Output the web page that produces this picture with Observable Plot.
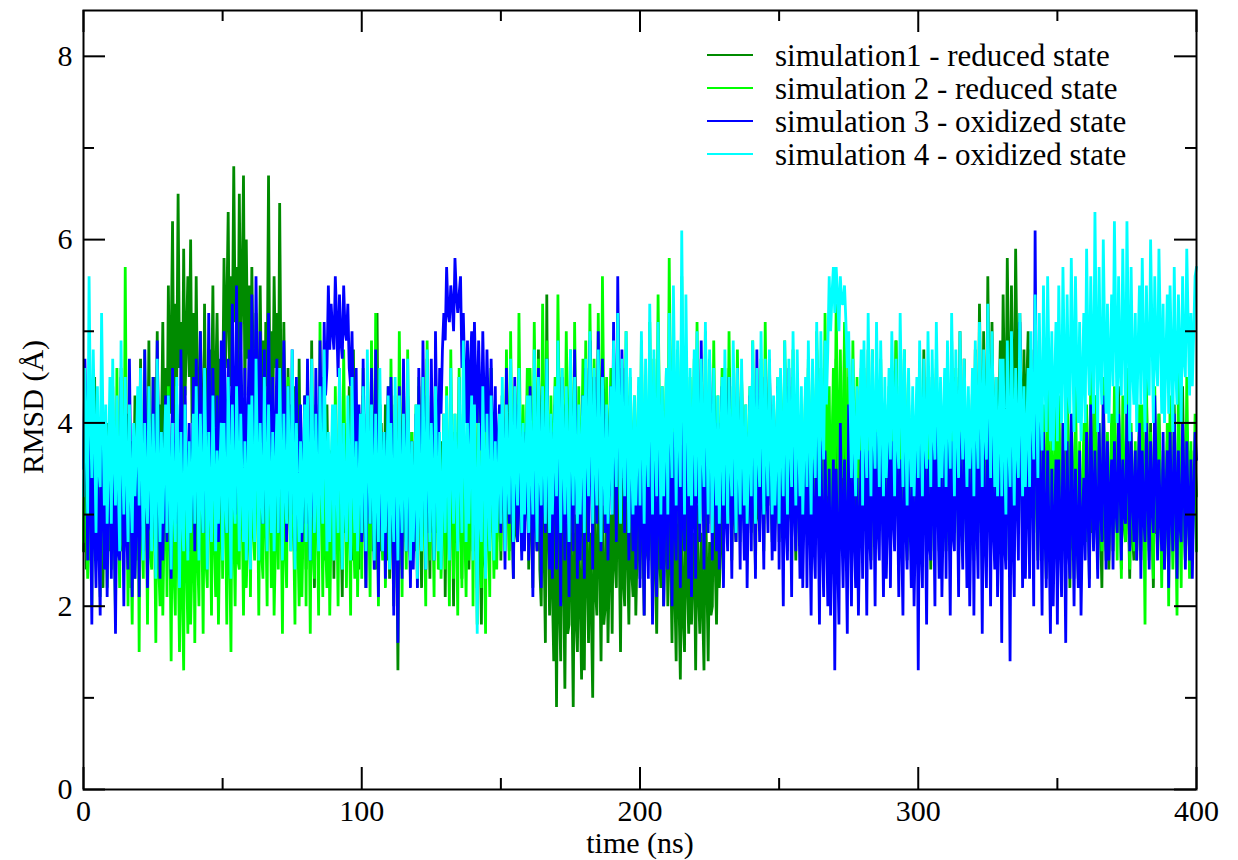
<!DOCTYPE html>
<html><head><meta charset="utf-8">
<script src="https://cdn.jsdelivr.net/npm/d3@7"></script>
<script src="https://cdn.jsdelivr.net/npm/@observablehq/plot@0.6"></script>
<style>
body{margin:0;background:#fff;}
#wrap{position:relative;width:1238px;height:860px;font-family:"Liberation Serif","Times New Roman",serif;}
#wrap svg{position:absolute;left:0;top:0;}
#legend{position:absolute;left:707px;top:38.5px;font-size:31px;line-height:33px;color:#000;}
.row{display:flex;align-items:center;height:33px;white-space:nowrap;}
.sw{display:inline-block;width:46px;height:2.5px;margin-right:22px;}
</style></head>
<body><div id="wrap"><div id="legend"></div></div>
<script>
const seriesNames = ["simulation1 - reduced state","simulation 2 - reduced state","simulation 3 - oxidized state","simulation 4 - oxidized state"];
const seriesColors = ["#008b00","#00ff00","#0000ff","#00ffff"];
const timeStepNs = 0.5;

const sim1Values = [
2.6,3.9,2.4,4.2,3.0,2.5,3.8,2.9,4.5,2.7,3.3,2.5,3.6,4.1,2.2,3.4,2.8,4.0,2.6,3.5,
2.8,4.4,3.1,2.3,3.9,2.7,3.2,4.6,2.6,3.5,2.9,4.1,2.4,3.6,2.2,3.8,3.0,4.3,2.5,3.7,
3.0,4.7,3.3,2.7,4.3,3.5,3.2,4.9,2.9,4.1,3.6,4.5,3.1,5.0,3.4,4.2,3.8,5.1,3.5,4.6,
3.6,5.5,4.1,4.8,6.2,4.0,5.3,4.4,6.5,4.6,5.1,3.8,5.9,4.3,4.9,5.6,4.5,6.0,4.0,5.2,
3.7,5.6,4.2,3.5,5.0,4.0,3.2,5.3,3.9,4.6,3.6,4.8,4.1,5.5,3.9,4.4,5.2,4.0,4.7,3.8,
4.2,5.8,4.6,5.2,6.3,4.4,5.6,4.9,6.8,5.1,5.7,4.5,6.5,4.8,5.4,6.7,4.3,6.0,4.7,5.5,
4.0,5.7,4.5,3.6,5.2,4.3,3.8,5.5,4.2,4.9,3.3,5.1,4.4,6.7,4.1,5.0,3.9,5.6,4.6,5.2,
3.7,6.4,4.3,3.4,5.1,3.9,3.0,4.6,3.6,4.2,2.8,4.4,3.3,4.0,2.6,4.7,3.1,3.8,2.9,4.3,
2.4,4.3,3.4,2.7,4.9,3.2,2.2,4.1,3.0,3.6,2.9,4.5,2.6,3.9,2.5,4.2,3.1,3.7,2.8,4.0,
2.3,4.0,3.2,2.6,4.6,3.0,2.1,3.9,2.8,3.5,2.8,4.4,3.3,2.5,4.8,3.1,2.7,3.8,2.4,4.1,
2.7,4.3,3.0,2.2,4.1,3.4,3.0,4.6,2.6,3.7,2.4,5.2,3.1,2.6,4.0,3.3,2.9,4.2,2.5,3.6,
2.3,3.8,2.9,2.0,4.2,3.1,1.3,3.6,2.7,2.4,4.5,3.0,2.7,4.1,3.2,2.5,3.9,2.8,2.6,3.5,
2.5,4.4,3.1,2.2,3.9,2.9,2.8,4.7,3.3,2.3,4.0,3.0,2.6,4.3,2.8,3.4,2.4,3.8,2.9,4.1,
2.1,3.7,3.0,2.5,4.2,3.2,2.0,3.9,2.7,2.7,4.5,3.1,2.3,4.1,3.3,2.6,3.6,2.4,3.2,4.0,
2.6,4.4,3.2,2.2,4.0,2.9,1.8,3.7,2.5,2.4,4.2,3.3,2.8,4.6,3.1,2.5,3.8,2.7,3.0,4.1,
2.5,4.0,3.1,2.9,4.5,3.4,2.6,4.2,3.0,2.3,3.8,2.8,2.7,4.4,3.2,2.6,3.9,2.9,3.1,4.2,
2.4,3.9,2.9,2.2,4.1,3.0,2.6,4.8,2.4,2.0,3.6,2.7,1.6,5.4,2.9,1.9,3.3,2.2,1.4,3.0,
0.9,3.2,2.1,1.4,3.6,2.5,1.1,2.9,1.7,1.8,3.4,2.3,0.9,3.0,1.9,1.5,2.7,2.2,1.2,3.1,
1.3,3.5,2.4,1.6,2.8,2.0,1.0,3.3,2.2,1.9,3.7,2.6,1.4,3.1,1.8,2.0,3.4,1.6,2.5,3.0,
1.7,3.6,2.5,2.2,3.9,2.8,1.5,3.4,2.3,2.0,3.8,2.6,1.8,3.3,2.4,2.1,3.5,1.9,2.7,3.2,
2.3,3.7,2.8,1.9,3.5,2.6,2.5,4.0,2.9,2.1,3.6,2.4,1.7,3.2,2.6,2.2,3.4,2.0,2.8,3.3,
2.0,3.4,2.6,1.6,3.0,2.2,1.4,3.3,2.1,1.2,2.9,1.9,1.5,3.4,2.3,1.7,3.1,1.8,2.4,2.8,
1.3,3.1,2.2,1.7,2.8,2.0,1.3,3.3,2.4,1.4,2.7,1.9,2.0,3.6,2.5,1.8,3.0,2.2,2.6,3.5,
2.6,4.1,3.2,2.9,4.6,3.4,2.5,3.9,3.0,2.7,4.3,3.3,3.0,4.5,3.5,2.8,3.8,2.6,3.3,4.0,
2.8,4.2,3.3,2.4,3.9,3.0,2.9,4.6,3.4,2.6,4.0,3.1,3.1,4.4,3.5,2.7,3.7,2.9,3.2,4.1,
2.7,4.3,3.2,3.0,4.7,3.5,2.6,4.1,3.0,2.9,4.5,3.3,2.5,4.2,3.1,2.8,3.9,2.7,3.4,4.0,
2.8,4.6,3.4,2.4,4.0,3.0,3.0,4.8,3.5,2.7,4.3,3.2,2.5,4.4,3.1,2.9,3.8,2.6,3.3,4.2,
2.9,4.7,3.5,2.6,4.2,3.1,3.1,5.0,3.6,2.8,4.5,3.3,2.4,4.1,3.0,2.7,3.9,2.8,3.4,4.3,
2.6,4.3,3.2,2.9,4.8,3.5,2.5,4.0,3.0,2.8,4.6,3.3,3.0,4.4,3.4,2.6,3.8,2.9,3.2,4.1,
2.7,4.5,3.3,3.1,4.9,3.6,2.6,4.2,3.1,2.9,4.7,3.4,2.5,4.3,3.0,2.8,3.9,2.7,3.5,4.0,
2.8,4.4,3.4,3.0,4.8,3.5,2.7,4.1,3.2,2.4,4.5,3.1,2.9,4.6,3.3,2.6,3.9,2.8,3.3,4.2,
2.6,4.3,3.3,3.0,4.9,3.6,2.8,4.5,3.4,3.2,5.0,3.7,2.9,4.7,3.5,3.0,4.0,2.8,3.6,4.4,
3.1,4.8,3.8,3.4,5.3,4.0,3.0,5.0,3.7,3.5,5.6,4.2,3.3,5.1,3.9,3.4,4.5,3.2,4.1,4.9,
3.6,5.4,4.3,3.9,5.8,4.5,3.7,5.5,4.2,4.0,5.9,4.6,3.5,5.2,4.1,3.8,4.8,3.4,4.4,5.0,
3.2,4.8,3.8,2.8,4.3,3.3,2.5,3.9,3.0,2.7,4.1,3.2,2.3,3.7,2.9,2.6,3.5,2.4,3.1,3.8,
2.6,4.0,3.2,2.4,3.6,2.9,2.8,4.2,3.3,2.2,3.8,2.7,2.5,3.9,3.0,2.3,3.4,2.6,3.1,3.7,
2.7,4.1,3.3,2.3,3.7,2.8,2.9,4.3,3.4,2.5,3.6,2.9,2.2,3.9,2.8,2.6,3.5,2.4,3.2,3.8,
2.6,4.0,3.2,2.8,4.4,3.3,2.4,3.8,2.9,2.7,4.2,3.1,2.3,3.6,2.8,2.5,3.7,2.6,3.3,3.9,
2.5,3.9,3.1,2.9,4.3,3.4,2.6,4.0,3.0,2.2,3.7,2.8,2.8,4.1,3.2,2.4,3.5,2.7,3.0,3.8,
2.4,3.8,3.0,2.7,4.2,3.2,2.3,3.6,2.8,2.9,4.4,3.3,2.5,3.9,3.1,2.6,3.7,2.8,3.4,3.6,
3.2];

const sim2Values = [
2.7,4.0,3.1,2.3,3.6,2.8,2.0,4.3,3.2,2.5,3.8,2.9,2.1,4.4,3.0,2.4,3.5,2.2,3.3,3.9,
2.4,3.9,2.9,1.9,4.6,3.1,2.2,4.1,2.7,2.6,5.7,3.4,2.0,3.7,2.8,1.8,3.5,2.3,3.0,4.2,
1.5,4.2,2.8,2.3,4.8,3.3,1.8,3.9,2.6,2.4,4.5,3.0,1.6,3.8,2.5,2.0,3.6,1.9,2.9,4.0,
2.1,4.4,3.0,1.4,3.6,2.4,1.9,4.1,2.7,1.5,3.5,2.2,1.3,4.0,2.6,1.7,3.3,1.8,2.5,3.7,
1.6,3.7,2.6,2.0,4.3,3.0,1.7,3.9,2.5,2.2,4.6,3.2,1.9,4.0,2.8,2.1,3.5,1.8,2.9,3.8,
2.3,4.5,3.2,1.8,3.8,2.7,1.5,4.1,2.9,2.0,3.6,2.5,2.4,4.4,3.1,1.9,3.4,2.2,2.8,4.0,
2.1,3.9,2.9,2.5,4.7,3.4,1.9,3.7,2.6,2.3,4.2,3.0,2.0,5.0,3.3,2.2,3.6,1.9,2.7,4.1,
2.4,4.3,3.1,1.7,3.8,2.7,2.2,4.5,3.2,2.6,3.9,2.9,1.8,4.1,2.8,2.0,3.5,2.1,3.0,4.0,
2.0,4.6,3.2,1.7,3.7,2.6,2.3,4.2,3.0,1.9,5.1,3.3,2.1,3.8,2.7,2.2,3.6,1.9,2.9,4.0,
2.5,4.4,3.2,2.0,3.9,2.8,2.4,4.8,3.4,2.2,4.0,3.0,1.9,4.3,2.9,2.3,3.7,2.1,3.1,4.1,
2.3,4.6,3.3,2.6,4.1,3.1,2.1,4.9,3.4,2.4,5.2,3.5,2.0,4.2,3.0,2.5,3.8,2.2,3.2,4.4,
2.5,4.7,3.4,2.2,4.3,3.1,2.7,5.0,3.6,2.1,4.4,3.2,2.4,4.8,3.3,2.3,3.9,2.6,3.0,4.2,
2.2,4.5,3.2,2.6,4.1,3.0,2.0,4.9,3.3,2.5,4.3,3.1,2.1,4.7,3.2,2.4,3.8,2.3,2.9,4.0,
2.4,4.4,3.1,2.0,4.8,3.3,2.3,4.1,3.0,1.9,4.6,3.2,2.2,4.2,2.9,2.1,3.7,2.5,3.0,4.3,
2.0,4.5,3.1,1.8,4.3,2.9,2.2,4.0,2.8,1.7,4.4,3.0,2.1,4.6,3.2,2.3,3.8,2.4,3.3,4.1,
2.6,4.3,3.4,3.0,4.8,3.7,2.5,5.0,3.6,2.9,4.4,3.5,3.1,5.2,3.8,2.8,4.2,3.2,3.6,4.6,
2.8,4.6,3.6,3.2,5.1,3.9,2.9,4.7,3.5,3.3,5.3,4.0,3.0,4.9,3.7,2.9,4.3,3.3,3.8,4.5,
3.2,5.4,4.0,2.9,4.6,3.6,3.4,5.0,3.9,3.1,4.8,3.7,2.8,5.1,3.8,3.0,4.4,3.2,3.6,4.7,
3.3,4.9,3.8,3.0,5.3,4.0,3.4,4.7,3.7,3.1,5.2,3.9,2.9,5.6,4.1,3.2,4.5,3.0,3.7,4.6,
3.2,4.8,3.9,3.5,5.2,4.1,3.0,4.6,3.6,3.3,5.0,3.8,2.8,4.5,3.5,3.1,4.3,2.9,3.7,4.4,
3.0,4.9,3.7,2.7,4.4,3.4,3.2,5.1,3.9,2.9,4.7,3.6,3.3,5.4,4.0,3.0,4.4,3.1,3.8,4.6,
3.1,5.8,4.1,3.4,5.0,3.9,2.9,4.8,3.6,3.2,5.6,4.0,3.0,4.6,3.7,3.2,4.5,3.0,3.8,4.7,
3.3,5.1,3.9,2.8,4.7,3.5,3.1,5.0,3.8,2.9,4.5,3.6,3.2,4.9,3.7,3.0,4.3,3.1,3.6,4.6,
2.8,4.6,3.5,3.1,5.0,3.8,2.9,4.4,3.4,3.2,4.8,3.7,2.7,4.5,3.5,3.0,4.2,2.9,3.6,4.4,
3.0,4.9,3.7,2.8,4.3,3.4,3.1,4.7,3.6,2.9,5.1,3.8,3.2,4.6,3.7,2.9,4.2,3.1,3.5,4.5,
2.9,4.5,3.6,3.2,4.9,3.8,2.7,4.4,3.4,3.0,4.8,3.7,2.8,4.3,3.5,3.1,4.1,2.9,3.6,4.4,
3.1,4.7,3.7,2.9,4.5,3.6,3.2,5.0,3.9,2.8,4.6,3.5,3.0,5.2,3.9,3.2,4.4,3.0,3.7,4.6,
3.3,5.3,4.0,3.0,4.8,3.7,3.4,5.1,3.9,3.1,4.7,3.6,2.9,4.9,3.8,3.2,4.5,3.1,3.7,4.6,
3.2,4.6,3.7,2.8,4.4,3.5,3.0,4.8,3.6,2.7,4.3,3.4,3.1,4.7,3.6,2.9,4.2,3.0,3.5,4.4,
2.9,4.5,3.6,3.2,4.9,3.8,2.8,4.4,3.4,3.0,4.8,3.7,2.6,4.3,3.3,2.9,4.1,2.8,3.5,4.2,
2.8,4.6,3.5,2.5,4.1,3.2,2.9,4.5,3.4,2.6,4.2,3.3,3.0,4.7,3.5,2.7,4.0,2.8,3.4,4.3,
2.7,4.3,3.3,2.5,4.0,3.1,2.8,4.6,3.5,2.4,4.2,3.2,2.7,4.4,3.4,2.6,3.9,2.5,3.2,4.1,
2.5,4.1,3.2,2.8,4.5,3.4,2.4,4.0,3.1,2.6,4.3,3.3,2.9,4.6,3.5,2.5,3.9,2.7,3.3,4.2,
2.7,4.2,3.3,2.5,4.5,3.4,2.8,4.7,3.6,2.6,4.3,3.3,3.0,4.8,3.7,2.7,4.1,2.8,3.5,4.4,
2.9,4.6,3.6,2.6,4.4,3.4,2.8,4.9,3.7,2.5,4.2,3.2,2.7,4.5,3.4,2.6,4.0,2.9,3.3,4.3,
2.6,4.3,3.3,2.4,4.0,3.1,2.8,4.5,3.5,2.5,4.1,3.2,2.3,4.4,3.3,2.6,3.8,2.4,3.1,4.0,
2.7,4.2,3.3,2.5,4.6,3.4,2.9,4.3,3.5,2.4,4.0,3.1,2.6,4.5,3.4,2.5,3.9,2.7,3.2,4.1,
2.8,4.4,3.5,2.5,4.1,3.2,2.3,4.3,3.2,2.7,4.6,3.5,2.4,4.0,3.1,2.6,3.8,2.5,3.3,4.2,
2.6,4.2,3.3,1.8,4.5,3.2,2.5,3.9,3.0,2.3,4.4,3.3,2.6,4.1,3.2,2.2,3.7,2.4,3.1,4.0,
2.0,4.3,3.1,2.4,3.9,3.0,1.9,4.6,3.2,2.2,4.0,3.0,2.5,4.5,3.4,2.3,3.8,2.6,3.2,4.1,
2.6];

const sim3Values = [
3.5,4.7,3.9,2.5,4.3,3.2,1.8,4.0,2.9,2.2,3.6,2.7,1.9,4.4,3.1,2.4,3.8,2.1,3.3,4.1,
2.3,3.8,2.9,1.7,3.5,2.6,2.5,4.5,3.3,2.0,3.9,2.8,2.4,4.7,3.4,2.1,3.7,2.3,3.0,4.2,
2.1,4.1,3.0,2.6,4.8,3.5,2.2,3.7,2.9,2.8,4.5,3.4,2.4,4.9,3.6,2.3,3.9,2.5,3.2,4.3,
2.7,4.3,3.3,2.3,4.6,3.4,2.9,4.2,3.5,2.5,4.8,3.6,3.0,4.4,3.5,2.6,4.0,2.8,3.4,4.5,
2.6,4.7,3.6,3.1,5.0,3.9,2.8,4.5,3.5,3.3,5.2,4.0,2.9,4.6,3.7,3.0,4.3,2.7,3.8,4.9,
3.2,5.0,4.0,2.8,4.7,3.7,3.5,5.3,4.2,3.0,5.5,4.1,3.4,5.1,4.0,3.1,4.6,3.3,3.9,4.8,
3.1,5.4,4.1,3.6,5.6,4.3,3.3,5.0,4.0,2.9,4.8,3.7,3.2,5.2,4.0,3.0,4.5,3.4,3.8,4.7,
2.8,4.6,3.6,3.1,4.9,3.8,2.7,4.4,3.4,3.0,4.8,3.7,2.6,4.5,3.4,2.9,4.2,2.7,3.5,4.3,
2.9,4.7,3.6,2.5,4.3,3.3,2.8,4.6,3.5,3.2,4.9,3.9,3.6,5.1,4.3,4.6,5.5,4.8,5.3,5.0,
4.8,5.6,5.1,4.5,5.4,4.9,4.7,5.5,5.0,4.9,5.3,4.6,4.4,5.0,4.1,3.5,4.6,3.0,4.2,3.6,
2.7,4.7,3.5,2.2,4.3,3.2,2.9,4.6,3.6,2.4,4.8,3.5,2.1,4.2,3.1,2.6,3.9,2.3,3.4,4.4,
2.5,4.5,3.4,1.9,4.0,3.0,1.6,4.4,3.2,2.3,4.7,3.5,2.6,4.3,3.3,2.2,3.8,2.4,3.1,4.1,
2.2,4.6,3.4,2.7,4.9,3.7,2.4,4.3,3.3,2.8,4.7,3.6,2.5,5.0,3.9,3.4,4.6,4.1,4.8,5.2,
4.9,5.7,5.2,5.1,5.5,5.3,5.0,5.8,5.4,5.2,5.4,5.6,4.6,5.2,4.5,4.0,4.9,3.7,4.6,5.0,
3.8,5.1,4.4,4.0,4.9,4.3,3.7,5.0,4.2,3.9,4.8,4.1,3.6,4.7,3.9,3.2,4.4,2.9,3.8,4.2,
2.8,4.3,3.5,2.4,4.6,3.4,2.9,4.1,3.3,2.3,4.5,3.4,2.7,4.2,3.2,2.5,3.9,2.6,3.4,4.0,
2.5,4.4,3.3,2.1,4.0,3.0,2.6,4.6,3.5,2.2,4.3,3.2,2.8,4.7,3.6,2.4,3.9,2.3,3.3,4.2,
2.4,4.1,3.2,2.0,4.5,3.3,2.5,4.2,3.2,2.1,4.4,3.3,2.6,4.8,3.6,2.3,3.8,2.5,3.4,4.3,
2.3,4.6,3.4,2.7,4.9,3.7,2.4,4.5,3.4,2.9,5.0,3.8,2.6,4.7,3.5,2.8,4.1,2.5,3.6,4.4,
3.0,5.1,3.9,2.7,5.6,4.0,3.1,4.8,3.8,2.8,4.6,3.6,2.5,4.3,3.3,2.6,3.9,2.4,3.2,4.0,
2.2,4.1,3.1,1.9,3.8,2.8,2.3,4.2,3.2,1.8,3.6,2.7,2.1,4.0,3.0,2.4,3.7,2.0,3.1,3.9,
2.4,4.3,3.3,2.0,3.9,2.9,2.5,4.5,3.4,2.2,4.0,3.0,2.6,4.4,3.3,2.3,3.8,2.1,3.2,4.1,
2.3,4.6,3.4,2.7,4.9,3.7,2.4,4.2,3.2,2.8,4.7,3.6,2.5,4.3,3.3,2.6,4.0,2.4,3.5,4.4,
2.2,4.0,3.0,2.6,4.5,3.4,2.3,4.1,3.1,2.7,4.6,3.5,2.4,4.2,3.2,2.5,3.9,2.2,3.3,4.3,
2.6,4.4,3.4,2.3,4.8,3.5,2.7,4.3,3.3,2.4,4.5,3.4,2.8,4.7,3.6,2.5,4.1,2.6,3.4,4.4,
2.4,4.2,3.2,2.0,4.0,2.9,2.5,4.6,3.4,2.1,4.3,3.1,2.6,4.1,3.2,2.3,3.8,2.2,3.1,4.0,
2.2,3.9,3.0,1.9,3.6,2.7,2.3,4.1,3.1,1.8,3.8,2.8,2.1,3.7,2.9,2.0,3.5,1.9,2.8,3.6,
1.3,3.5,2.6,1.8,4.0,2.9,2.2,3.6,2.8,1.7,4.2,3.0,2.0,3.8,2.8,2.2,3.4,1.9,2.9,3.7,
2.3,4.3,3.2,1.9,3.7,2.8,2.4,4.4,3.3,2.0,3.9,2.9,2.5,4.1,3.2,2.1,3.6,2.3,3.0,3.9,
2.2,3.8,3.0,2.6,4.2,3.3,2.1,3.6,2.8,1.9,4.0,2.9,2.4,3.7,3.0,2.2,3.5,2.0,2.9,3.8,
1.3,3.9,2.7,2.2,4.3,3.2,1.8,3.6,2.7,2.5,4.1,3.2,2.0,4.5,3.2,2.3,3.7,2.1,3.0,4.0,
2.3,4.2,3.2,1.9,3.8,2.8,2.6,4.4,3.4,2.1,3.9,3.0,2.4,4.3,3.3,2.2,3.7,2.0,3.1,4.0,
1.9,4.0,3.0,2.3,4.6,3.4,1.7,3.8,2.8,2.2,4.3,3.2,2.0,3.9,2.9,2.4,3.6,2.1,3.0,3.8,
1.6,3.7,2.7,2.4,4.5,3.4,1.4,4.0,2.8,2.1,4.4,3.2,2.5,5.1,3.6,2.2,3.9,2.3,3.1,4.2,
2.3,4.6,3.4,2.0,6.1,3.8,2.4,4.2,3.2,1.9,3.9,2.9,2.2,3.7,2.8,1.7,3.5,2.0,2.9,3.6,
1.8,3.6,2.8,2.1,4.0,3.0,1.6,3.8,2.7,2.3,4.1,3.1,2.0,3.5,2.8,2.2,3.7,1.9,2.9,3.4,
2.5,3.9,3.1,2.2,4.2,3.2,2.6,3.7,3.0,2.3,4.0,3.1,2.7,4.3,3.4,2.4,3.8,2.5,3.2,3.6,
2.4,3.8,3.1,2.8,4.1,3.4,2.5,3.6,3.0,2.9,4.2,3.5,2.6,3.9,3.2,2.7,3.7,2.5,3.3,4.0,
2.3,3.7,3.0,2.7,4.0,3.3,2.4,3.8,3.1,2.8,4.3,3.5,2.5,3.6,3.0,2.6,3.9,2.4,3.2,3.7,
2.2,3.9,3.1,2.6,4.1,3.3,2.3,3.7,2.9,2.7,4.0,3.4,2.4,3.8,3.1,2.5,3.6,2.3,3.2,3.9,
3.6];

const sim4Values = [
3.2,4.6,3.8,3.0,5.6,4.1,3.4,4.8,3.9,2.8,4.4,3.5,3.3,5.2,4.0,3.1,4.2,2.9,3.6,4.5,
2.9,4.7,3.6,3.1,4.3,3.4,2.6,4.9,3.7,3.0,4.5,3.5,2.7,4.2,3.3,2.8,4.0,3.2,3.7,4.4,
3.1,4.6,3.6,2.5,4.0,3.2,2.9,4.4,3.5,2.6,4.1,3.3,2.3,4.7,3.4,2.7,3.9,2.9,3.6,4.2,
2.8,4.3,3.4,2.4,4.0,3.1,2.7,4.5,3.5,2.2,3.9,3.0,2.6,4.2,3.3,2.5,3.8,2.8,3.4,4.1,
2.9,4.4,3.5,2.5,4.1,3.2,2.8,4.6,3.6,2.4,3.9,3.1,2.7,4.3,3.4,2.6,3.7,2.9,3.5,4.0,
2.5,4.0,3.2,2.8,4.5,3.5,2.3,4.2,3.2,2.9,4.4,3.6,2.6,4.1,3.3,2.7,3.8,2.5,3.4,4.2,
2.4,4.3,3.3,2.7,4.7,3.6,2.5,4.0,3.2,2.9,4.5,3.5,2.6,4.2,3.3,2.8,3.9,2.6,3.5,4.1,
2.8,4.6,3.6,2.5,4.1,3.3,2.9,4.4,3.5,2.6,4.8,3.6,2.4,4.0,3.2,2.7,3.8,2.8,3.4,4.2,
2.7,4.3,3.4,2.5,4.7,3.5,2.8,4.1,3.3,2.6,4.4,3.4,2.9,4.8,3.7,2.6,3.9,2.7,3.5,4.2,
2.5,4.2,3.3,2.8,4.6,3.6,2.4,4.0,3.2,2.7,4.3,3.4,2.5,4.5,3.4,2.8,3.8,2.6,3.3,4.1,
2.8,4.4,3.5,2.6,4.8,3.6,2.9,4.2,3.4,2.5,4.1,3.2,2.7,4.6,3.5,2.6,3.9,2.8,3.4,4.3,
2.4,4.0,3.2,2.7,4.5,3.5,2.5,4.3,3.3,2.8,4.1,3.4,2.6,4.7,3.5,2.5,3.8,2.7,3.3,4.2,
2.3,4.2,3.2,2.6,4.5,3.5,2.4,4.8,3.6,2.7,4.0,3.3,2.5,4.4,3.4,2.6,3.9,2.4,3.2,4.1,
2.8,4.3,3.5,2.5,4.6,3.5,2.9,4.1,3.4,2.6,4.5,3.5,2.8,4.9,3.7,2.7,4.0,2.9,3.6,4.3,
2.5,4.2,3.3,1.7,4.0,3.0,2.7,4.4,3.5,2.3,4.1,3.2,2.6,4.3,3.4,2.5,3.8,2.8,3.4,4.1,
2.9,4.5,3.6,2.6,4.2,3.4,3.0,4.7,3.7,2.7,4.4,3.5,3.1,4.6,3.7,2.8,4.0,3.0,3.6,4.3,
2.8,4.3,3.5,3.0,4.8,3.8,2.7,4.5,3.5,3.1,4.4,3.6,2.9,4.7,3.7,2.8,4.1,3.0,3.6,4.4,
3.2,4.9,3.9,2.8,4.6,3.6,3.0,4.4,3.5,2.7,4.8,3.7,3.1,4.5,3.6,2.9,4.2,3.0,3.7,4.3,
2.8,4.7,3.7,3.2,5.0,3.9,2.9,4.6,3.6,3.1,4.8,3.8,2.7,4.5,3.5,3.0,4.2,2.9,3.6,4.4,
3.0,4.9,3.8,3.3,5.2,4.0,2.9,4.7,3.7,3.2,5.0,3.9,2.8,4.6,3.6,3.0,4.3,3.1,3.7,4.5,
3.1,5.0,3.9,2.9,4.7,3.7,3.3,5.3,4.1,3.0,4.8,3.8,3.2,5.1,4.0,3.0,4.4,3.2,3.8,4.6,
3.0,5.2,4.0,3.4,5.5,4.3,3.1,4.9,3.9,3.3,6.1,4.4,3.0,5.4,4.1,3.2,4.6,3.1,3.9,4.8,
3.2,5.0,3.9,2.9,4.7,3.7,3.3,5.1,4.0,3.0,4.8,3.8,2.8,4.6,3.6,3.1,4.3,2.9,3.7,4.5,
3.1,4.8,3.8,2.9,4.5,3.6,3.2,4.9,3.9,2.8,4.6,3.6,3.0,4.7,3.7,3.1,4.2,2.9,3.6,4.4,
3.2,4.9,3.9,2.9,4.6,3.7,3.3,5.0,4.0,3.0,4.7,3.7,3.2,4.8,3.8,3.0,4.3,3.1,3.7,4.5,
2.9,4.6,3.7,3.2,4.9,3.9,3.0,4.7,3.8,3.3,5.0,4.0,3.1,4.8,3.8,3.2,4.4,3.0,3.8,4.5,
3.3,4.9,3.9,3.0,4.7,3.8,3.4,5.1,4.1,3.2,5.0,4.0,3.6,4.9,4.2,4.8,5.6,5.0,5.4,5.7,
5.2,5.7,5.4,5.0,5.6,5.3,5.3,5.5,5.1,4.6,5.0,4.2,3.4,4.7,3.8,3.2,4.4,3.6,4.1,4.8,
3.1,4.9,3.9,3.4,5.2,4.1,3.2,4.8,3.9,3.5,5.1,4.2,3.3,4.9,4.0,3.2,4.5,3.4,3.9,4.6,
3.6,5.0,4.2,3.2,4.7,3.8,3.5,5.2,4.2,3.3,4.8,3.9,3.1,4.6,3.8,3.3,4.4,3.2,3.9,4.5,
3.4,4.9,4.0,3.2,4.7,3.8,3.5,5.0,4.1,3.3,4.8,3.9,3.6,5.1,4.2,3.3,4.5,3.4,4.0,4.6,
3.3,4.9,4.0,3.5,5.2,4.2,3.2,4.8,3.9,3.4,5.0,4.1,3.6,4.7,4.0,3.3,4.4,3.5,3.9,4.6,
3.2,4.9,4.0,3.5,5.1,4.2,3.3,4.8,3.9,3.6,5.3,4.3,3.4,5.0,4.1,3.3,4.5,3.2,3.9,4.7,
3.2,4.7,3.8,3.0,4.9,3.8,3.3,5.0,4.0,3.1,4.6,3.7,3.4,5.2,4.1,3.2,4.4,3.3,3.9,4.6,
3.3,5.0,4.1,3.6,5.4,4.4,3.4,5.2,4.2,3.7,5.5,4.5,3.9,5.6,4.6,3.8,5.0,3.7,4.4,5.1,
3.8,5.5,4.5,4.0,5.7,4.7,3.7,5.4,4.4,4.1,5.8,4.8,3.9,5.6,4.6,4.0,5.1,3.8,4.5,5.2,
4.0,5.9,4.8,4.3,5.6,4.7,4.1,6.3,4.9,3.9,5.7,4.6,4.2,6.0,4.9,4.1,5.3,4.0,4.7,5.4,
4.4,6.2,5.0,4.0,5.6,4.6,4.3,5.9,4.9,4.1,6.2,5.0,3.8,5.7,4.6,4.2,5.2,3.9,4.8,5.5,
4.2,5.8,4.8,3.9,5.5,4.6,4.3,6.0,5.0,4.0,5.6,4.7,4.4,5.9,5.0,4.1,5.3,4.0,4.7,5.4,
4.1,5.5,4.7,3.9,5.7,4.6,4.2,5.4,4.8,4.0,5.6,4.7,4.5,5.9,5.1,4.3,5.2,4.4,5.0,5.6,
5.7];

const seriesValues = [sim1Values, sim2Values, sim3Values, sim4Values];
const xDomain = [0, 400];
const yDomain = [0, 8.5];
const xMajorTicks = [0, 100, 200, 300, 400];
const xMinorTicks = [50, 150, 250, 350];
const yMajorTicks = [0, 2, 4, 6, 8];
const yMinorTicks = [1, 3, 5, 7];
const xLabel = "time (ns)";
const yLabel = "RMSD (Å)";

const W = 1238, H = 860, ML = 83, MR = 42, MT = 10, MB = 71;
const innerW = W - ML - MR, innerH = H - MT - MB;
const majorLen = 22, minorLen = 11;

const rows = [];
seriesValues.forEach((vals, s) => vals.forEach((v, i) => rows.push({t: i * timeStepNs, rmsd: v, sim: seriesNames[s]})));

const chart = Plot.plot({
  width: W, height: H,
  marginLeft: ML, marginRight: MR, marginTop: MT, marginBottom: MB,
  style: {fontFamily: '"Liberation Serif", "Times New Roman", serif', fontSize: "30px", background: "white", color: "black", overflow: "visible"},
  x: {domain: xDomain},
  y: {domain: yDomain},
  color: {domain: seriesNames, range: seriesColors},
  marks: [
    Plot.line(rows, {x: "t", y: "rmsd", z: "sim", stroke: "sim", strokeWidth: 2.8, strokeLinejoin: "bevel"}),
    Plot.tickX(xMajorTicks, {x: d => d, insetTop: innerH - majorLen, strokeWidth: 2}),
    Plot.tickX(xMajorTicks, {x: d => d, insetBottom: innerH - majorLen, strokeWidth: 2}),
    Plot.tickX(xMinorTicks, {x: d => d, insetTop: innerH - minorLen, strokeWidth: 2}),
    Plot.tickX(xMinorTicks, {x: d => d, insetBottom: innerH - minorLen, strokeWidth: 2}),
    Plot.tickY(yMajorTicks, {y: d => d, insetRight: innerW - majorLen, strokeWidth: 2}),
    Plot.tickY(yMajorTicks, {y: d => d, insetLeft: innerW - majorLen, strokeWidth: 2}),
    Plot.tickY(yMinorTicks, {y: d => d, insetRight: innerW - minorLen, strokeWidth: 2}),
    Plot.tickY(yMinorTicks, {y: d => d, insetLeft: innerW - minorLen, strokeWidth: 2}),
    Plot.frame({strokeWidth: 2}),
    Plot.axisX({ticks: xMajorTicks, tickSize: 0, tickPadding: 10, label: null, fontSize: 30}),
    Plot.axisY({ticks: yMajorTicks, tickSize: 0, tickPadding: 11, label: null, fontSize: 30}),
    Plot.text([xLabel], {frameAnchor: "bottom", text: d => d, dy: 63, lineAnchor: "bottom", textAnchor: "middle", fontSize: 30}),
    Plot.text([yLabel], {frameAnchor: "left", text: d => d, rotate: -90, dx: -41, dy: 7, lineAnchor: "bottom", textAnchor: "middle", fontSize: 30})
  ]
});
const wrap = document.getElementById("wrap");
wrap.insertBefore(chart, wrap.firstChild);

const legend = document.getElementById("legend");
seriesNames.forEach((name, i) => {
  const row = document.createElement("div");
  row.className = "row";
  const sw = document.createElement("span");
  sw.className = "sw";
  sw.style.background = seriesColors[i];
  const tx = document.createElement("span");
  tx.textContent = name;
  row.appendChild(sw);
  row.appendChild(tx);
  legend.appendChild(row);
});
</script>
</body></html>
